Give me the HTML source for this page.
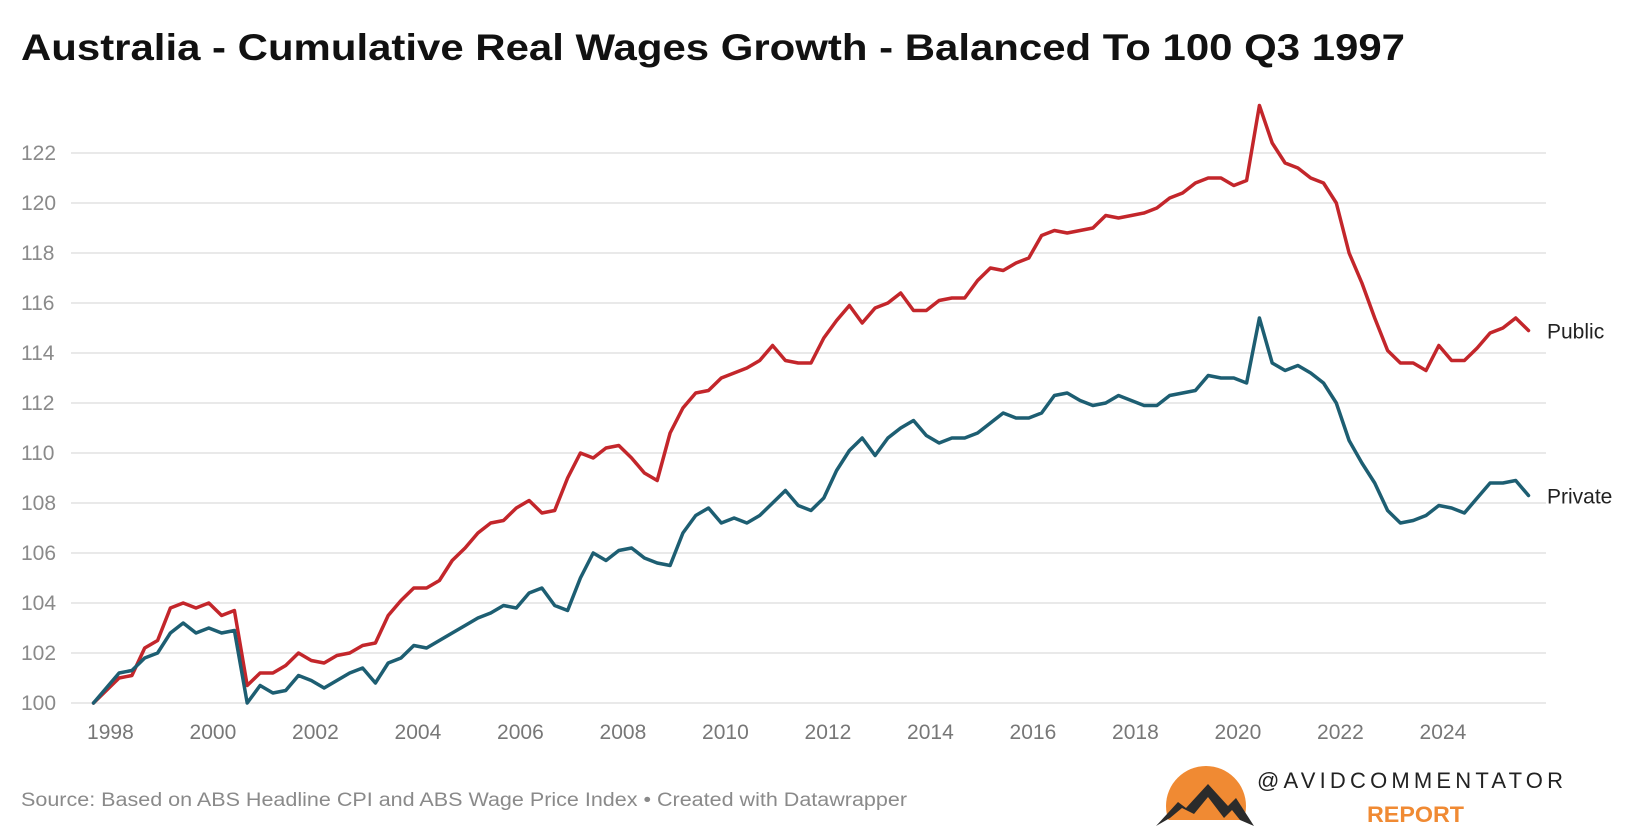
<!DOCTYPE html>
<html><head><meta charset="utf-8"><style>
html,body{margin:0;padding:0;background:#fff;}
svg{display:block;font-family:"Liberation Sans",sans-serif;}
</style></head><body>
<svg id="chart" width="1640" height="828" viewBox="0 0 1640 828">
<text x="21" y="60" font-size="37" font-weight="bold" fill="#111" textLength="1384" lengthAdjust="spacingAndGlyphs">Australia - Cumulative Real Wages Growth - Balanced To 100 Q3 1997</text>
<g id="grid"></g>
<g id="yticks"></g>
<g id="xticks"></g>
<g id="series"></g>
<text x="21" y="806" font-size="19" fill="#8a8a8a" textLength="886" lengthAdjust="spacingAndGlyphs">Source: Based on ABS Headline CPI and ABS Wage Price Index • Created with Datawrapper</text>
<g>
<clipPath id="sunclip"><rect x="1150" y="740" width="120" height="80"/></clipPath>
<circle cx="1206" cy="806" r="40" fill="#f08a33" clip-path="url(#sunclip)"/>
<path d="M1156,826 L1178,802 L1186,808 L1208,784 L1228,806 L1236,798 L1254,826 L1240,820 L1232,810 L1224,818 L1208,797 L1194,814 L1182,808 L1170,818 Z" fill="#2b2b2b"/>
<text x="1257" y="788" font-size="22" fill="#222" textLength="306" lengthAdjust="spacing">@AVIDCOMMENTATOR</text>
<text x="1367" y="822" font-size="22" font-weight="bold" fill="#f08a33" textLength="97" lengthAdjust="spacingAndGlyphs">REPORT</text>
</g>
</svg>
<script>
const yTicks = [100,102,104,106,108,110,112,114,116,118,120,122];
const xTickYears = [1998,2000,2002,2004,2006,2008,2010,2012,2014,2016,2018,2020,2022,2024];
const startYear = 1997.67;
const seriesNames = ["Public","Private"];
const publicValues = [100,100.5,101.0,101.1,102.2,102.5,103.8,104.0,103.8,104.0,103.5,103.7,100.7,101.2,101.2,101.5,102.0,101.7,101.6,101.9,102.0,102.3,102.4,103.5,104.1,104.6,104.6,104.9,105.7,106.2,106.8,107.2,107.3,107.8,108.1,107.6,107.7,109.0,110.0,109.8,110.2,110.3,109.8,109.2,108.9,110.8,111.8,112.4,112.5,113.0,113.2,113.4,113.7,114.3,113.7,113.6,113.6,114.6,115.3,115.9,115.2,115.8,116.0,116.4,115.7,115.7,116.1,116.2,116.2,116.9,117.4,117.3,117.6,117.8,118.7,118.9,118.8,118.9,119.0,119.5,119.4,119.5,119.6,119.8,120.2,120.4,120.8,121.0,121.0,120.7,120.9,123.9,122.4,121.6,121.4,121.0,120.8,120.0,118.0,116.8,115.4,114.1,113.6,113.6,113.3,114.3,113.7,113.7,114.2,114.8,115.0,115.4,114.9];
const privateValues = [100,100.6,101.2,101.3,101.8,102.0,102.8,103.2,102.8,103.0,102.8,102.9,100.0,100.7,100.4,100.5,101.1,100.9,100.6,100.9,101.2,101.4,100.8,101.6,101.8,102.3,102.2,102.5,102.8,103.1,103.4,103.6,103.9,103.8,104.4,104.6,103.9,103.7,105.0,106.0,105.7,106.1,106.2,105.8,105.6,105.5,106.8,107.5,107.8,107.2,107.4,107.2,107.5,108.0,108.5,107.9,107.7,108.2,109.3,110.1,110.6,109.9,110.6,111.0,111.3,110.7,110.4,110.6,110.6,110.8,111.2,111.6,111.4,111.4,111.6,112.3,112.4,112.1,111.9,112.0,112.3,112.1,111.9,111.9,112.3,112.4,112.5,113.1,113.0,113.0,112.8,115.4,113.6,113.3,113.5,113.2,112.8,112.0,110.5,109.6,108.8,107.7,107.2,107.3,107.5,107.9,107.8,107.6,108.2,108.8,108.8,108.9,108.3];

const NS="http://www.w3.org/2000/svg";
function yScale(v){ return 703 - (v-100)*25; }
function xScale(year){ return 110.4 + (year-1998)*51.25; }
function mk(tag, attrs){ const e=document.createElementNS(NS,tag); for(const k in attrs) e.setAttribute(k,attrs[k]); return e; }

const grid=document.getElementById('grid'), yt=document.getElementById('yticks'), xt=document.getElementById('xticks'), ser=document.getElementById('series');
yTicks.forEach(v=>{
  const l=mk('line',{x1:71,x2:1546,y1:yScale(v),y2:yScale(v),stroke:'#e2e2e2','stroke-width':1.5});
  
  
  grid.appendChild(l);
  const t=mk('text',{x:21,y:yScale(v)+7,'font-size':21,fill:'#8a8a8a'});
  t.textContent=v;
  
  
  yt.appendChild(t);
});
xTickYears.forEach(y=>{
  const t=mk('text',{x:xScale(y),y:739,'font-size':21,fill:'#777','text-anchor':'middle'});
  t.textContent=y;
  
  
  xt.appendChild(t);
});
function drawLine(vals,color,name){
  const pts=vals.map((v,i)=>xScale(startYear+i*0.25).toFixed(1)+','+yScale(v).toFixed(1)).join(' ');
  const p=mk('polyline',{points:pts,fill:'none',stroke:color,'stroke-width':3.5,'stroke-linejoin':'round','stroke-linecap':'round'});
  
  
  ser.appendChild(p);
}
drawLine(publicValues,'#c3262b','public');
drawLine(privateValues,'#1d5e72','private');
const lp=mk('text',{x:1547,y:yScale(publicValues[publicValues.length-1])+8,'font-size':21,fill:'#222'});
lp.textContent=seriesNames[0];


ser.appendChild(lp);
const lv=mk('text',{x:1547,y:yScale(privateValues[privateValues.length-1])+8,'font-size':21,fill:'#222'});
lv.textContent=seriesNames[1];


ser.appendChild(lv);
</script>
</body></html>
